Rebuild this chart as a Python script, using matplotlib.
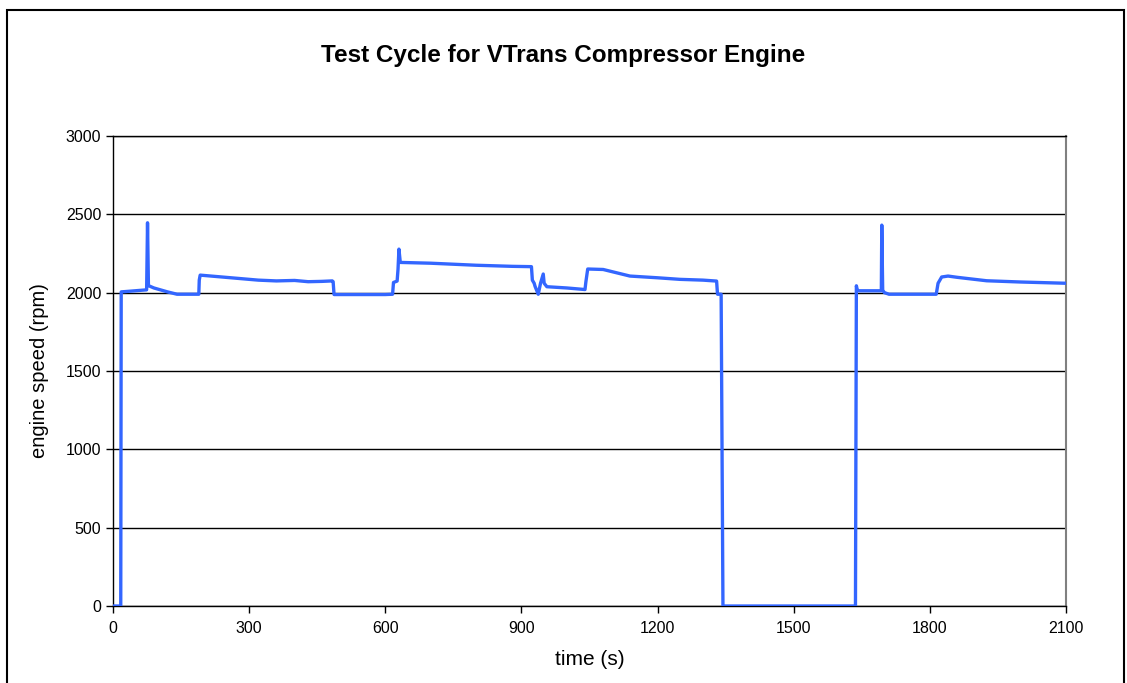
import matplotlib.pyplot as plt
from matplotlib.patches import Rectangle

plt.rcParams['font.family'] = ['Liberation Sans', 'DejaVu Sans']

# time (s) and engine speed (rpm)
time_s = [0, 17, 18, 40, 74, 76, 78, 90, 120, 141, 189, 190, 192, 220, 260, 300, 320,
          360, 400, 430, 460, 483, 485, 487, 540, 600, 616, 618, 626, 628, 630, 633,
          700, 800, 880, 922, 924, 928, 930, 937, 942, 948, 950, 956, 1000, 1040,
          1042, 1046, 1080, 1139, 1200, 1249, 1300, 1330, 1332, 1340, 1344,
          1500, 1636, 1638, 1640, 1644, 1693, 1694, 1696, 1700, 1710, 1760, 1814,
          1818, 1826, 1840, 1860, 1925, 2000, 2100]
rpm = [0, 0, 2005, 2010, 2018, 2446, 2045, 2030, 2005, 1990, 1990, 2080, 2112, 2105,
       2095, 2085, 2080, 2075, 2078, 2070, 2072, 2075, 2070, 1988, 1988, 1988, 1990,
       2065, 2074, 2150, 2278, 2193, 2188, 2175, 2168, 2166, 2080, 2060, 2040, 1990,
       2060, 2119, 2060, 2038, 2030, 2020, 2070, 2151, 2148, 2106, 2095, 2085, 2080,
       2074, 1990, 1990, 0, 0, 0, 2044, 2015, 2012, 2012, 2431, 2015, 2000,
       1990, 1990, 1990, 2060, 2100, 2106, 2098, 2076, 2068, 2060]

x_ticks = [0, 300, 600, 900, 1200, 1500, 1800, 2100]
y_ticks = [0, 500, 1000, 1500, 2000, 2500, 3000]

fig = plt.figure(figsize=(11.27, 6.83), dpi=100)
ax = fig.add_axes([0.1003, 0.1127, 0.8456, 0.6882])

ax.plot(time_s, rpm, color='#3366FF', lw=2.4, zorder=3)

ax.set_xlim(0, 2100)
ax.set_ylim(0, 3000)
ax.set_xticks(x_ticks)
ax.set_yticks(y_ticks)
ax.yaxis.grid(True, color='black', lw=1)
ax.set_axisbelow(True)
ax.tick_params(direction='out', length=5, width=1, labelsize=11.5, color='black')
ax.tick_params(axis='x', pad=6)
for s in ['left', 'bottom', 'top']:
    ax.spines[s].set_color('black')
    ax.spines[s].set_linewidth(1)
ax.spines['right'].set_color('#808080')
ax.spines['right'].set_linewidth(1.5)

ax.set_xlabel('time (s)', fontsize=15, labelpad=10)
ax.set_ylabel('engine speed (rpm)', fontsize=14.5, labelpad=12)
fig.text(0.5, 0.919, 'Test Cycle for VTrans Compressor Engine', ha='center',
         va='center', fontsize=17.5, fontweight='bold')

fig.patches.append(Rectangle((7 / 1127, -0.01), 1117 / 1127, 1 - 10 / 683 + 0.01,
                             transform=fig.transFigure, fill=False, lw=1.5,
                             edgecolor='black'))

fig.savefig('out.png', dpi=100)
